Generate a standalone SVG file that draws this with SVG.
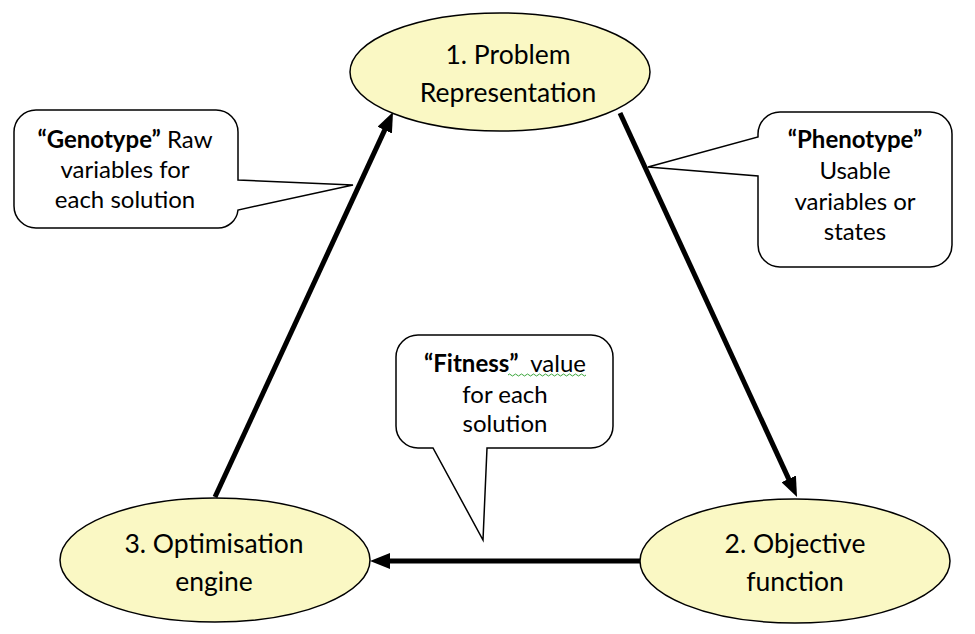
<svg xmlns="http://www.w3.org/2000/svg" width="975" height="634" viewBox="0 0 975 634">
<style>
.node{fill:#FAF8C4;stroke:#000;stroke-width:1.5}
.call{fill:#fff;stroke:#000;stroke-width:1.5;stroke-linejoin:miter}
.t{font-family:Lato,"Liberation Sans",sans-serif;font-size:24px;fill:#000;text-anchor:middle;white-space:pre}
.n{font-size:26.5px}
.b{font-weight:bold}
.edge{stroke:#000;stroke-width:5;fill:none}
</style>
<defs>
<marker id="ah" markerUnits="userSpaceOnUse" markerWidth="20" markerHeight="16" refX="8" refY="8" orient="auto" viewBox="0 0 20 16">
<path d="M0,0 L20,8 L0,16 z" fill="#000"/>
</marker>
</defs>
<g id="connectors">
<line class="edge" x1="215" y1="497" x2="388" y2="122.9" marker-end="url(#ah)"/>
<line class="edge" x1="620" y1="113" x2="792" y2="486.1" marker-end="url(#ah)"/>
<line class="edge" x1="640" y1="561" x2="382" y2="561" marker-end="url(#ah)"/>
</g>
<g id="node1">
<ellipse class="node" cx="500" cy="72" rx="150" ry="59"/>
<text class="t n" x="508" y="64">1. Problem</text>
<text class="t n" x="508" y="102">Representation</text>
</g>
<g id="node2">
<ellipse class="node" cx="795" cy="561" rx="155" ry="62"/>
<text class="t n" x="795" y="553">2. Objective</text>
<text class="t n" x="795" y="591">function</text>
</g>
<g id="node3">
<ellipse class="node" cx="215" cy="560" rx="155" ry="62"/>
<text class="t n" x="214" y="553">3. Optimisation</text>
<text class="t n" x="214" y="591">engine</text>
</g>
<g id="callout-genotype">
<path class="call" d="M36,110 H216 A22,22 0 0 1 238,132 V180 L353,185 L238,210 A20,20 0 0 1 218,228 H36 A22,22 0 0 1 14,206 V132 A22,22 0 0 1 36,110 Z"/>
<text class="t" x="125" y="148"><tspan class="b">“Genotype”</tspan> Raw</text>
<text class="t" x="125" y="178">variables for</text>
<text class="t" x="125" y="208">each solution</text>
</g>
<g id="callout-phenotype">
<path class="call" d="M780,112 H930 A22,22 0 0 1 952,134 V245 A22,22 0 0 1 930,267 H780 A22,22 0 0 1 758,245 V176 L648,167 L758,137 V134 A22,22 0 0 1 780,112 Z"/>
<text class="t b" x="855" y="148">“Phenotype”</text>
<text class="t" x="855" y="179">Usable</text>
<text class="t" x="855" y="210">variables or</text>
<text class="t" x="855" y="240">states</text>
</g>
<g id="callout-fitness">
<path class="call" d="M418,335 H591 A22,22 0 0 1 613,357 V426 A22,22 0 0 1 591,448 H487 L483,540 L433,448 H418 A22,22 0 0 1 396,426 V357 A22,22 0 0 1 418,335 Z"/>
<text class="t" x="505" y="372" xml:space="preserve"><tspan class="b">“Fitness”</tspan>  value</text>
<text class="t" x="505" y="403">for each</text>
<text class="t" x="505" y="432">solution</text>
<path d="M508,375 q1.5,-2 3,0 t3,0 t3,0 t3,0 t3,0 t3,0 t3,0 t3,0 t3,0 t3,0 t3,0 t3,0 t3,0 t3,0 t3,0 t3,0 t3,0 t3,0 t3,0 t3,0 t3,0 t3,0 t3,0 t3,0 t3,0 t3,0" fill="none" stroke="#3BA53B" stroke-width="1"/>
</g>
</svg>
